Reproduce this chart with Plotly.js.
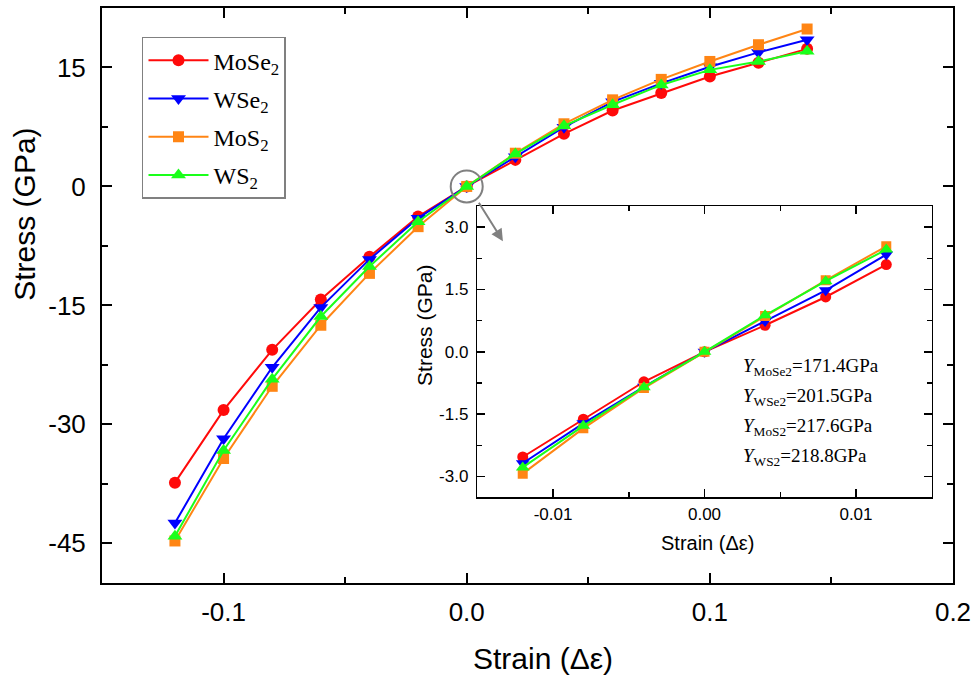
<!DOCTYPE html>
<html>
<head>
<meta charset="utf-8">
<script src="https://cdn.plot.ly/plotly-3.0.1.min.js"></script>
<style>html,body{margin:0;padding:0;background:#fff;}#chart{width:976px;height:677px;}</style>
</head>
<body>
<div id="chart"></div>
<script>
// ---- data ----
var seriesNames = ['MoSe<sub>2</sub>', 'WSe<sub>2</sub>', 'MoS<sub>2</sub>', 'WS<sub>2</sub>'];
var strainMain = [-0.12, -0.10, -0.08, -0.06, -0.04, -0.02, 0, 0.02, 0.04, 0.06, 0.08, 0.10, 0.12, 0.14];
var mose2Main = [-37.35, -28.2, -20.6, -14.25, -8.86, -3.8, 0, 3.35, 6.63, 9.57, 11.77, 13.87, 15.6, 17.35];
var wse2Main  = [-42.45, -31.8, -22.8, -15.25, -9.2, -4.0, 0, 3.76, 7.47, 10.67, 13.0, 15.1, 16.9, 18.5];
var mos2Main  = [-44.7, -34.3, -25.2, -17.5, -10.96, -5.07, 0, 4.19, 7.9, 10.92, 13.5, 15.76, 17.87, 19.85];
var ws2Main   = [-44.1, -33.3, -24.3, -16.4, -10.1, -4.44, 0, 4.1, 7.64, 10.3, 12.8, 14.7, 15.76, 17.05];

var strainInset = [-0.012, -0.008, -0.004, 0, 0.004, 0.008, 0.012];
var mose2Inset = [-2.53, -1.62, -0.72, 0, 0.64, 1.32, 2.10];
var wse2Inset  = [-2.68, -1.72, -0.84, 0, 0.74, 1.48, 2.34];
var mos2Inset  = [-2.93, -1.84, -0.87, 0, 0.86, 1.72, 2.54];
var ws2Inset   = [-2.78, -1.78, -0.85, 0, 0.88, 1.70, 2.46];

var moduliLabels = ['MoSe2', 'WSe2', 'MoS2', 'WS2'];
var moduliValues = ['171.4', '201.5', '217.6', '218.8'];

var mainXTicks = [-0.1, 0.0, 0.1, 0.2];
var mainXText = ['-0.1', '0.0', '0.1', '0.2'];
var mainYTicks = [15, 0, -15, -30, -45];
var mainYText = ['15', '0', '-15', '-30', '-45'];
var insetXTicks = [-0.01, 0.0, 0.01];
var insetXText = ['-0.01', '0.00', '0.01'];
var insetYTicks = [3.0, 1.5, 0.0, -1.5, -3.0];
var insetYText = ['3.0', '1.5', '0.0', '-1.5', '-3.0'];

// ---- styles ----
var colors = ['#ff0a0a', '#0000ff', '#ff8514', '#1aff1a'];
var symbols = ['circle', 'triangle-down', 'square', 'triangle-up'];
var mSizes = [12, 13, 11, 13];
var mSizesInset = [11, 12, 10, 12];

var mainY = [mose2Main, wse2Main, mos2Main, ws2Main];
var insetY = [mose2Inset, wse2Inset, mos2Inset, ws2Inset];

var traces = [];
for (var i = 0; i < 4; i++) {
  traces.push({
    x: strainMain, y: mainY[i], type: 'scatter', mode: 'lines+markers',
    name: seriesNames[i], legendgroup: 'g' + i,
    line: {color: colors[i], width: 2},
    marker: {color: colors[i], symbol: symbols[i], size: mSizes[i]},
    xaxis: 'x', yaxis: 'y'
  });
}
for (var j = 0; j < 4; j++) {
  traces.push({
    x: strainInset, y: insetY[j], type: 'scatter', mode: 'lines+markers',
    name: seriesNames[j], showlegend: false,
    line: {color: colors[j], width: 2},
    marker: {color: colors[j], symbol: symbols[j], size: mSizesInset[j]},
    xaxis: 'x2', yaxis: 'y2'
  });
}

var sans = 'Liberation Sans, Arial, sans-serif';
var serif = 'Liberation Serif, Times New Roman, serif';

function axisBase() {
  return {
    showgrid: false, zeroline: false, showline: true, linecolor: '#000', linewidth: 2,
    mirror: 'ticks', ticks: 'inside', tickcolor: '#000', tickwidth: 2,
    tickmode: 'array'
  };
}

var xMain = Object.assign(axisBase(), {
  domain: [0, 1], range: [-0.15, 0.2], tickvals: mainXTicks, ticktext: mainXText,
  ticklen: 10, tickfont: {family: sans, size: 26, color: '#000'}, ticklabelstandoff: 5,
  minor: {tickmode: 'array', tickvals: [-0.05, 0.05, 0.15], ticks: 'inside', ticklen: 6, tickcolor: '#000', tickwidth: 2},
  anchor: 'y'
});
var yMain = Object.assign(axisBase(), {
  domain: [0, 1], range: [-50, 22.5], tickvals: mainYTicks, ticktext: mainYText,
  ticklen: 10, tickfont: {family: sans, size: 26, color: '#000'}, ticklabelstandoff: 9,
  minor: {tickmode: 'array', tickvals: [7.5, -7.5, -22.5, -37.5], ticks: 'inside', ticklen: 6, tickcolor: '#000', tickwidth: 2},
  anchor: 'x'
});
var xInset = Object.assign(axisBase(), {
  domain: [0.441, 0.975], range: [-0.015, 0.015], tickvals: insetXTicks, ticktext: insetXText,
  ticklen: 8, tickwidth: 1.5, linewidth: 1.5, tickfont: {family: sans, size: 17, color: '#000'}, ticklabelstandoff: 1,
  minor: {tickmode: 'array', tickvals: [-0.005, 0.005], ticks: 'inside', ticklen: 5, tickcolor: '#000', tickwidth: 1.5},
  anchor: 'y2'
});
var yInset = Object.assign(axisBase(), {
  domain: [0.149, 0.655], range: [-3.5, 3.5], tickvals: insetYTicks, ticktext: insetYText,
  ticklen: 8, tickwidth: 1.5, linewidth: 1.5, tickfont: {family: sans, size: 17, color: '#000'}, ticklabelstandoff: 4,
  minor: {tickmode: 'array', tickvals: [2.25, 0.75, -0.75, -2.25], ticks: 'inside', ticklen: 5, tickcolor: '#000', tickwidth: 1.5},
  anchor: 'x2'
});

var annotations = [
  {xref: 'paper', yref: 'paper', x: (25 - 102) / 851, y: (582.7 - 215) / 574.2, text: 'Stress (GPa)', showarrow: false, textangle: -90,
   xanchor: 'center', yanchor: 'middle', font: {family: sans, size: 30, color: '#000'}},
  {xref: 'paper', yref: 'paper', x: (543 - 102) / 851, y: (582.7 - 658) / 574.2, text: 'Strain (\u0394\u03b5)', showarrow: false,
   xanchor: 'center', yanchor: 'middle', font: {family: sans, size: 30, color: '#000'}},
  {xref: 'paper', yref: 'paper', x: (425 - 102) / 851, y: (582.7 - 326) / 574.2, text: 'Stress (GPa)', showarrow: false, textangle: -90,
   xanchor: 'center', yanchor: 'middle', font: {family: sans, size: 21, color: '#000'}},
  {xref: 'paper', yref: 'paper', x: (707 - 102) / 851, y: (582.7 - 543) / 574.2, text: 'Strain (\u0394\u03b5)', showarrow: false,
   xanchor: 'center', yanchor: 'middle', font: {family: sans, size: 20, color: '#000'}},
  {xref: 'x', yref: 'y', x: 0.0149, y: -6.9, ax: -25, ay: -40, text: '', showarrow: true,
   arrowcolor: '#808080', arrowwidth: 2, arrowhead: 2, arrowsize: 1.2, standoff: 0}
];
for (var k = 0; k < 4; k++) {
  annotations.push({
    xref: 'paper', yref: 'paper', x: (741 - 102) / 851, y: (582.7 - (366.7 + 30 * k)) / 574.2,
    xanchor: 'left', yanchor: 'middle', showarrow: false,
    text: '<i>Y</i><sub>' + moduliLabels[k] + '</sub>=' + moduliValues[k] + 'GPa',
    font: {family: serif, size: 19, color: '#000'}
  });
}

var layout = {
  width: 976, height: 677,
  margin: {l: 102, r: 23, t: 8, b: 94, pad: 0},
  paper_bgcolor: '#fff', plot_bgcolor: '#fff',
  showlegend: true,
  legend: {
    x: 0.047, y: 0.95, xanchor: 'left', yanchor: 'top',
    bgcolor: '#fff', bordercolor: '#808080', borderwidth: 1.5,
    font: {family: serif, size: 24, color: '#000'},
    itemwidth: 60,
    tracegroupgap: 4
  },
  xaxis: xMain, yaxis: yMain, xaxis2: xInset, yaxis2: yInset,
  shapes: [
    {type: 'circle', xref: 'x', yref: 'y', xsizemode: 'pixel', ysizemode: 'pixel',
     xanchor: 0, yanchor: 0, x0: -16, x1: 16, y0: -16, y1: 16,
     line: {color: '#808080', width: 2}}
  ],
  annotations: annotations
};

Plotly.newPlot('chart', traces, layout, {displayModeBar: false, staticPlot: true});
</script>
</body>
</html>
